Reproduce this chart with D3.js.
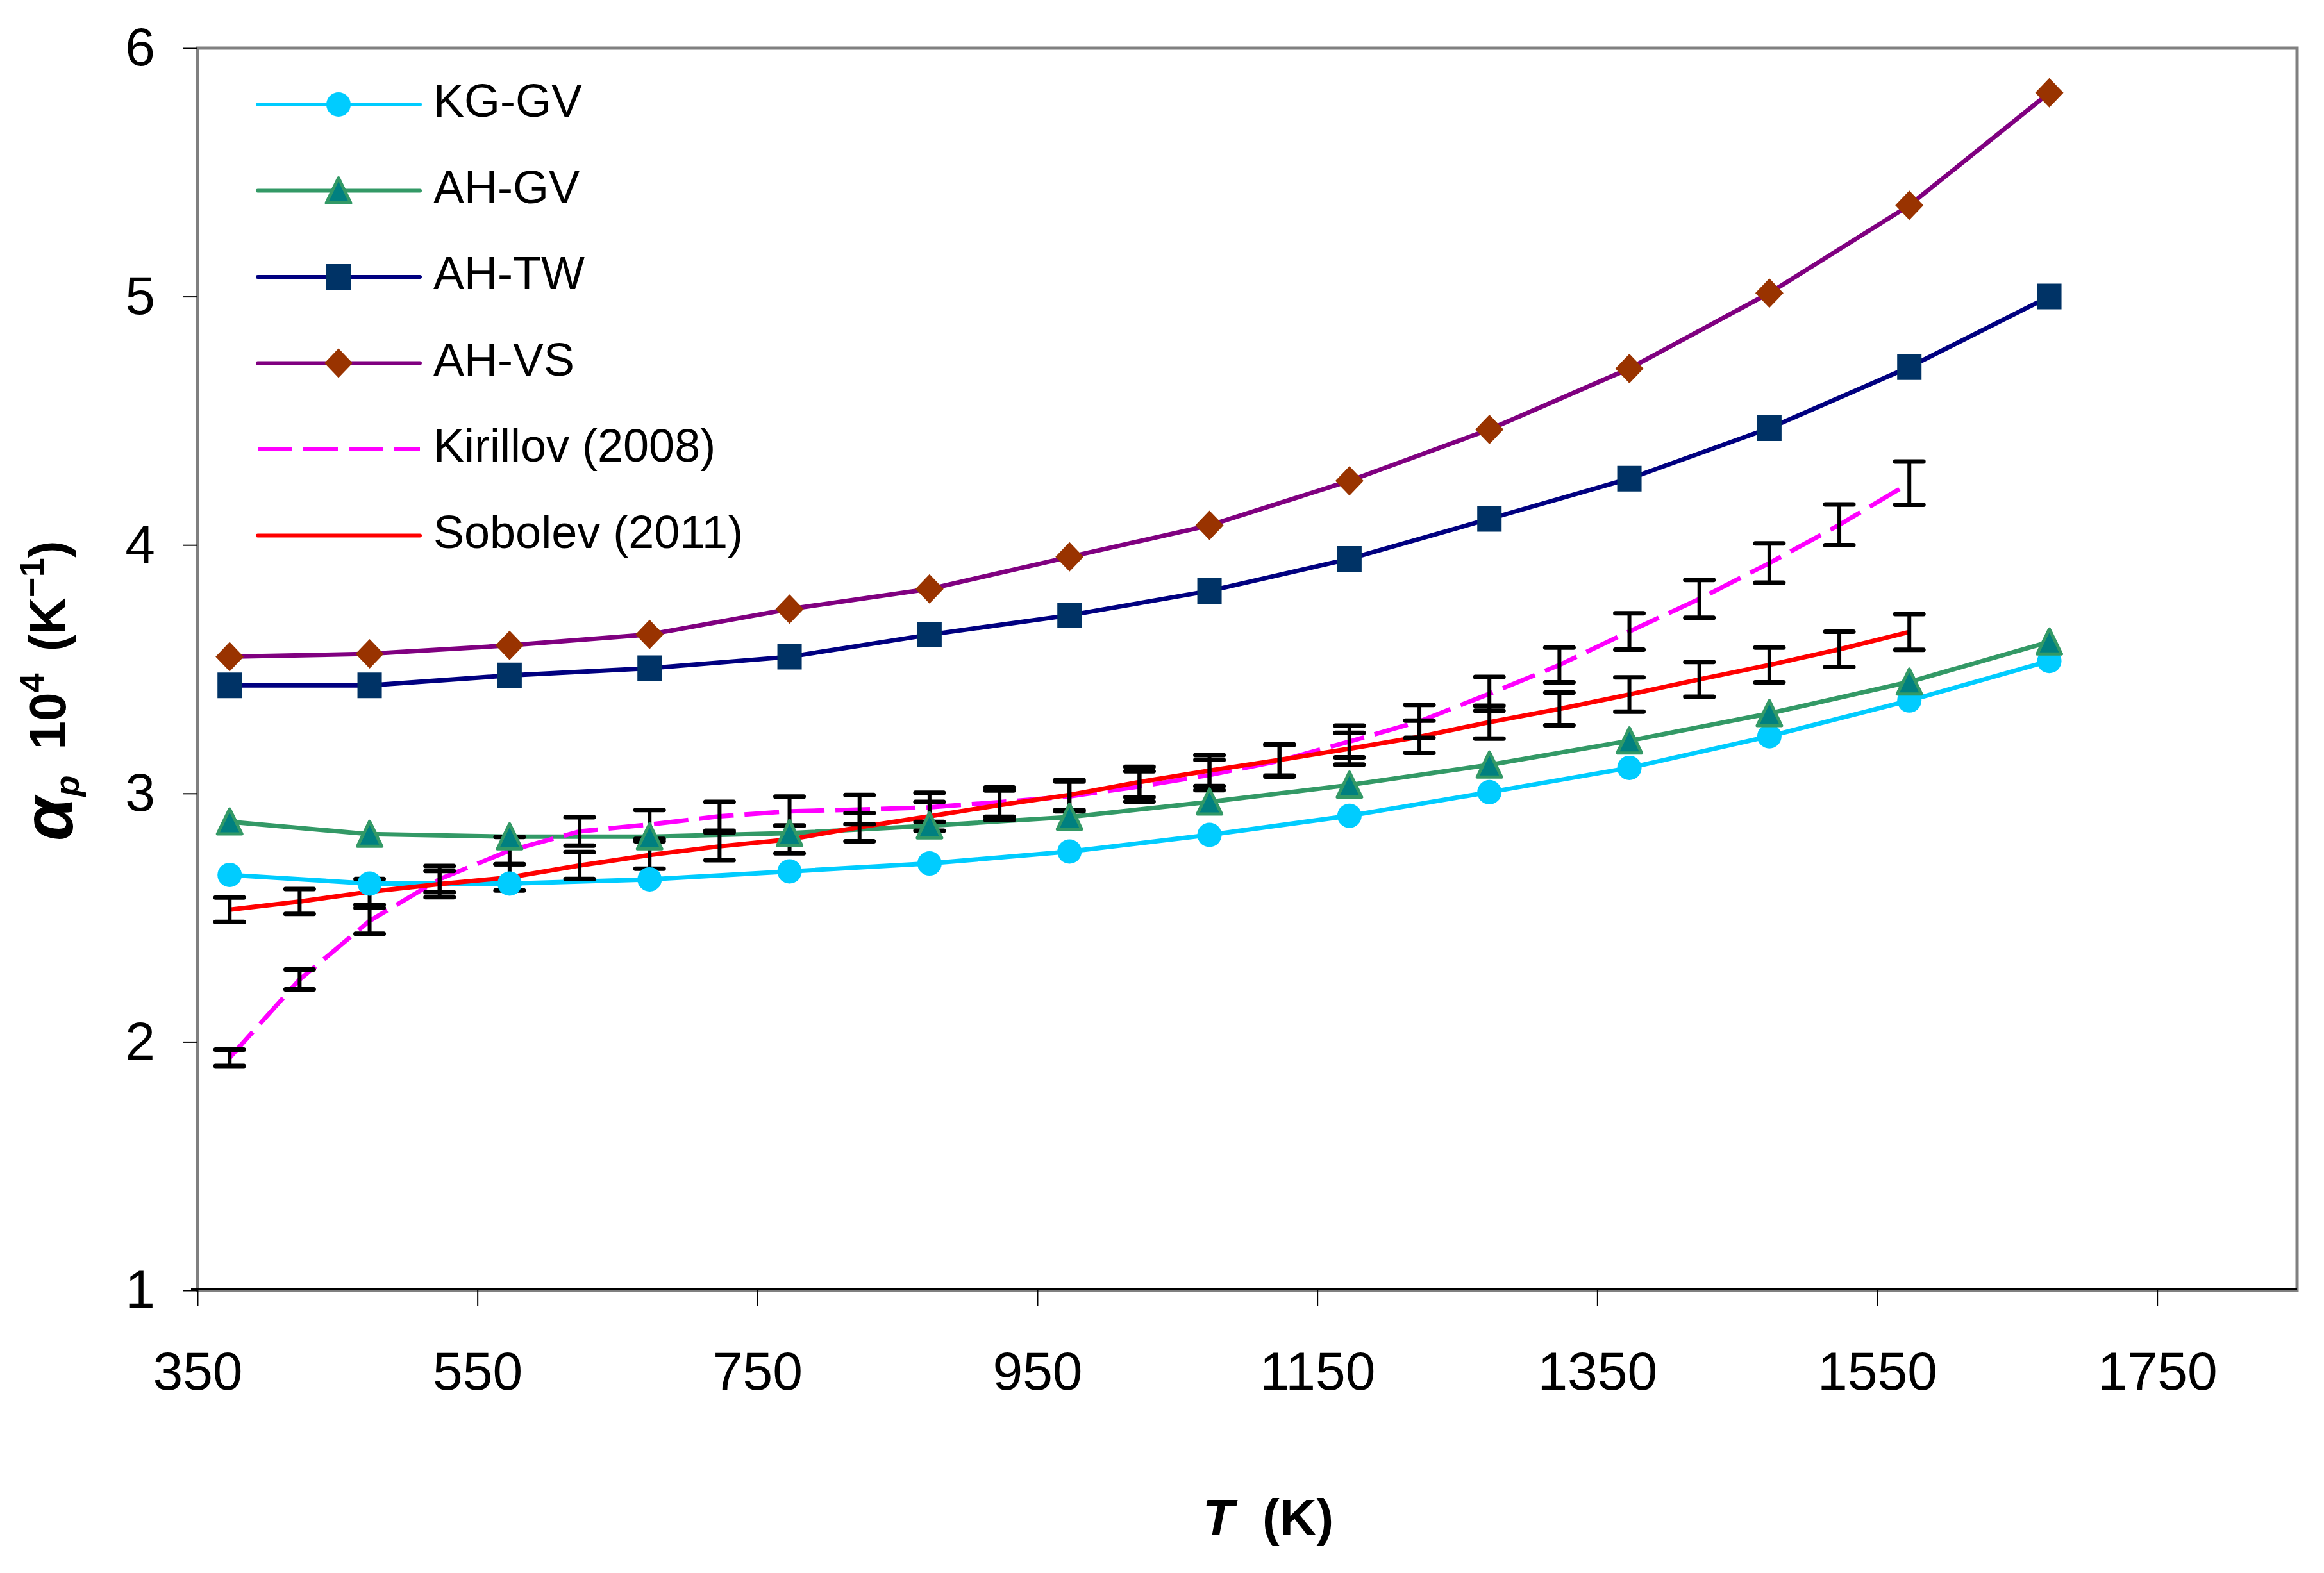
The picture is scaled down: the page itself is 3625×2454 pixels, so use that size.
<!DOCTYPE html>
<html>
<head>
<meta charset="utf-8">
<script src="https://cdn.jsdelivr.net/npm/d3@7"></script>
<style>
  body { margin: 0; background: #ffffff; }
  svg { display: block; font-family: Arial, "Liberation Sans", sans-serif; }
</style>
</head>
<body>
<div id="chart"></div>
<script>
// thermal expansion coefficient vs temperature
const width = 3625;
const height = 2454;

// model curves (every 100 K)
const modelT = [373, 473, 573, 673, 773, 873, 973, 1073, 1173, 1273, 1373, 1473, 1573, 1673];
const kgGV = [2.672, 2.637, 2.637, 2.654, 2.686, 2.718, 2.766, 2.833, 2.910, 3.005, 3.103, 3.230, 3.374, 3.533];
const ahGV = [2.886, 2.836, 2.826, 2.826, 2.840, 2.870, 2.905, 2.966, 3.034, 3.115, 3.212, 3.322, 3.449, 3.610];
const ahTW = [3.435, 3.435, 3.475, 3.504, 3.550, 3.639, 3.717, 3.815, 3.944, 4.105, 4.267, 4.470, 4.716, 5.000];
const ahVS = [3.550, 3.562, 3.596, 3.640, 3.742, 3.823, 3.952, 4.079, 4.258, 4.465, 4.710, 5.014, 5.367, 5.820];

// experimental data (every 50 K) with error bars
const expT = [373, 423, 473, 523, 573, 623, 673, 723, 773, 823, 873, 923, 973, 1023, 1073, 1123, 1173, 1223, 1273, 1323, 1373, 1423, 1473, 1523, 1573];
const kirillov = [1.936, 2.251, 2.487, 2.655, 2.770, 2.847, 2.875, 2.908, 2.928, 2.935, 2.944, 2.965, 2.988, 3.028, 3.074, 3.131, 3.209, 3.290, 3.401, 3.517, 3.652, 3.783, 3.927, 4.081, 4.249];
const kirillovErr = [0.033, 0.040, 0.052, 0.053, 0.055, 0.057, 0.058, 0.058, 0.059, 0.059, 0.059, 0.059, 0.060, 0.061, 0.061, 0.063, 0.064, 0.066, 0.068, 0.070, 0.073, 0.076, 0.079, 0.082, 0.087];
const sobolev = [2.532, 2.565, 2.604, 2.635, 2.662, 2.710, 2.752, 2.787, 2.815, 2.864, 2.908, 2.953, 2.994, 3.046, 3.092, 3.135, 3.180, 3.228, 3.287, 3.340, 3.398, 3.459, 3.517, 3.580, 3.650];
const sobolevErr = [0.049, 0.050, 0.052, 0.053, 0.053, 0.054, 0.055, 0.056, 0.056, 0.057, 0.058, 0.059, 0.060, 0.061, 0.062, 0.063, 0.064, 0.065, 0.066, 0.066, 0.069, 0.070, 0.070, 0.071, 0.072];

// axis ticks
const xTicks = [350, 550, 750, 950, 1150, 1350, 1550, 1750];
const yTicks = [1, 2, 3, 4, 5, 6];

const legendNames = ["KG-GV", "AH-GV", "AH-TW", "AH-VS", "Kirillov (2008)", "Sobolev (2011)"];

const plot = { left: 308, right: 3583, top: 75, bottom: 2013 };

const x = d3.scaleLinear().domain([350, 1850]).range([plot.left, plot.right]);
const y = d3.scaleLinear().domain([1, 6]).range([plot.bottom, plot.top]);

// marker shapes, drawn around (0,0)
function markerPath(kind) {
    if (kind === "circle") return d3.symbol(d3.symbolCircle, Math.PI * 19 * 19)();
    if (kind === "triangle") return "M0,-20L19,19L-19,19Z";
    if (kind === "square") return "M-19,-20L19,-20L19,20L-19,20Z";
    if (kind === "diamond") return "M0,-23L22,0L0,23L-22,0Z";
    return "";
}

const series = [
    { name: legendNames[0], xs: modelT, ys: kgGV, line: "#00ccff", marker: "circle", fill: "#00ccff", stroke: "none" },
    { name: legendNames[1], xs: modelT, ys: ahGV, line: "#339966", marker: "triangle", fill: "#008080", stroke: "#339966" },
    { name: legendNames[2], xs: modelT, ys: ahTW, line: "#000080", marker: "square", fill: "#003366", stroke: "none" },
    { name: legendNames[3], xs: modelT, ys: ahVS, line: "#800080", marker: "diamond", fill: "#993300", stroke: "none" },
    { name: legendNames[4], xs: expT, ys: kirillov, err: kirillovErr, line: "#ff00ff", dash: "54,17", marker: null },
    { name: legendNames[5], xs: expT, ys: sobolev, err: sobolevErr, line: "#ff0000", marker: null }
];

const svg = d3.select("#chart").append("svg")
    .attr("width", width)
    .attr("height", height);

svg.append("rect").attr("width", width).attr("height", height).attr("fill", "#ffffff");

// plot area frame
svg.append("rect")
    .attr("x", plot.left)
    .attr("y", plot.top)
    .attr("width", plot.right - plot.left)
    .attr("height", plot.bottom - plot.top)
    .attr("fill", "none")
    .attr("stroke", "#808080")
    .attr("stroke-width", 5);

// axes
const xAxis = svg.append("g")
    .attr("transform", `translate(0,${plot.bottom})`)
    .call(d3.axisBottom(x).tickValues(xTicks).tickSize(25).tickPadding(70).tickFormat(d3.format("d")));

const yAxis = svg.append("g")
    .attr("transform", `translate(${plot.left},0)`)
    .call(d3.axisLeft(y).tickValues(yTicks).tickSize(23).tickPadding(43).tickFormat(d3.format("d")));

[xAxis, yAxis].forEach(function(ax) {
    ax.select(".domain").remove();
    ax.selectAll(".tick line").attr("stroke", "#000").attr("stroke-width", 2);
    ax.selectAll(".tick text")
        .attr("fill", "#000")
        .style("font-size", "84px")
        .style("font-family", "Arial, 'Liberation Sans', sans-serif");
});

// black bottom axis line
svg.append("line")
    .attr("x1", plot.left - 10).attr("x2", plot.right)
    .attr("y1", plot.bottom - 2).attr("y2", plot.bottom - 2)
    .attr("stroke", "#000")
    .attr("stroke-width", 3);

const line = d3.line()
    .x(d => x(d[0]))
    .y(d => y(d[1]));

const linesG = svg.append("g");
const barsG = svg.append("g");
const markersG = svg.append("g");

series.forEach(function(s) {
    const pts = s.xs.map((t, i) => [t, s.ys[i]]);

    linesG.append("path")
        .datum(pts)
        .attr("d", line)
        .attr("fill", "none")
        .attr("stroke", s.line)
        .attr("stroke-width", 7)
        .attr("stroke-dasharray", s.dash || null)
        .attr("stroke-linejoin", "round");

    if (s.err) {
        // error bars with caps
        const bar = barsG.selectAll(null)
            .data(pts.map((p, i) => [p[0], p[1], s.err[i]]))
            .enter().append("g");

        bar.append("line")
            .attr("x1", d => x(d[0])).attr("x2", d => x(d[0]))
            .attr("y1", d => y(d[1] - d[2])).attr("y2", d => y(d[1] + d[2]))
            .attr("stroke", "#000").attr("stroke-width", 6);

        [-1, 1].forEach(function(sign) {
            bar.append("line")
                .attr("x1", d => x(d[0]) - 22).attr("x2", d => x(d[0]) + 22)
                .attr("y1", d => y(d[1] + sign * d[2])).attr("y2", d => y(d[1] + sign * d[2]))
                .attr("stroke", "#000").attr("stroke-width", 7)
                .attr("stroke-linecap", "round");
        });
    }

    if (s.marker) {
        markersG.selectAll(null)
            .data(pts)
            .enter().append("path")
            .attr("d", markerPath(s.marker))
            .attr("transform", d => `translate(${x(d[0])},${y(d[1])})`)
            .attr("fill", s.fill)
            .attr("stroke", s.stroke)
            .attr("stroke-width", 5)
            .attr("stroke-linejoin", "round");
    }
});

// legend
const legend = svg.append("g");
series.forEach(function(s, i) {
    const ly = 163 + i * 134.5;
    legend.append("line")
        .attr("x1", 402).attr("x2", 655)
        .attr("y1", ly).attr("y2", ly)
        .attr("stroke", s.line)
        .attr("stroke-width", 6)
        .attr("stroke-dasharray", s.dash || null)
        .attr("stroke-linecap", s.dash ? "butt" : "round");
    if (s.marker) {
        legend.append("path")
            .attr("d", markerPath(s.marker))
            .attr("transform", `translate(528,${ly})`)
            .attr("fill", s.fill)
            .attr("stroke", s.stroke)
            .attr("stroke-width", 5)
            .attr("stroke-linejoin", "round");
    }
    legend.append("text")
        .attr("x", 676)
        .attr("y", ly + 19)
        .style("font-size", "72px")
        .attr("fill", "#000")
        .text(s.name);
});

// x axis title
const xTitle = svg.append("text")
    .attr("x", 1978)
    .attr("y", 2395)
    .attr("text-anchor", "middle")
    .style("font-size", "80px")
    .style("font-weight", "bold");
xTitle.append("tspan").style("font-style", "italic").text("T");
xTitle.append("tspan").attr("dx", 22).text(" (K)");

// y axis title
const yTitle = svg.append("text")
    .attr("transform", "translate(102,1312) rotate(-90)")
    .attr("text-anchor", "start")
    .style("font-size", "80px")
    .style("font-weight", "bold");
yTitle.append("tspan").attr("dy", 11).style("font-size", "112px").style("font-style", "italic").text("α");
yTitle.append("tspan").attr("dy", 10).style("font-size", "54px").style("font-style", "italic").text("p");
yTitle.append("tspan").attr("dy", -21).attr("dx", 40).text("10");
yTitle.append("tspan").attr("dy", -34).style("font-size", "54px").text("4");
yTitle.append("tspan").attr("dy", 34).attr("dx", 12).text(" (K");
yTitle.append("tspan").attr("dy", -34).style("font-size", "54px").text("−1");
yTitle.append("tspan").attr("dy", 34).text(")");
</script>
</body>
</html>
